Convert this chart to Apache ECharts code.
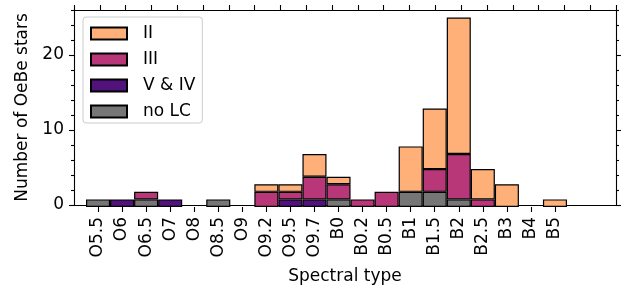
<!DOCTYPE html>
<html>
<head>
<meta charset="utf-8">
<script src="https://cdn.jsdelivr.net/npm/echarts@6/dist/echarts.min.js"></script>
<style>
  html, body { margin: 0; padding: 0; background: #fff; }
  #chart { width: 622px; height: 290px; }
</style>
</head>
<body>
<div id="chart"></div>
<script>
// spectral types on the x axis
const categories = ['O5.5', 'O6', 'O6.5', 'O7', 'O8', 'O8.5', 'O9', 'O9.2', 'O9.5', 'O9.7',
  'B0', 'B0.2', 'B0.5', 'B1', 'B1.5', 'B2', 'B2.5', 'B3', 'B4', 'B5'];

// counts per luminosity class (stacked bottom to top: no LC, V & IV, III, II)
const noLC = [1, 0, 1, 0, 0, 1, 0, 0, 0, 0, 1, 0, 0, 2, 2, 1, 0, 0, 0, 0];
const classVIV = [0, 1, 0, 1, 0, 0, 0, 0, 1, 1, 0, 0, 0, 0, 0, 0, 0, 0, 0, 0];
const classIII = [0, 0, 1, 0, 0, 0, 0, 2, 1, 3, 2, 1, 2, 0, 3, 6, 1, 0, 0, 0];
const classII = [0, 0, 0, 0, 0, 0, 0, 1, 1, 3, 1, 0, 0, 6, 8, 18, 4, 3, 0, 1];

const yMajor = [0, 10, 20];
const yMinor = [2, 4, 6, 8, 12, 14, 16, 18, 22, 24, 26];

const font = 'DejaVu Sans';
const black = '#000';
const line = { color: black, width: 1.1 };

function barSeries(name, arr, color) {
  return {
    name: name,
    type: 'bar',
    stack: 'total',
    xAxisIndex: 0,
    yAxisIndex: 0,
    barWidth: '100%',
    // empty bins are left out so no zero-height outline is drawn
    data: arr.map((v) => (v ? v : '-')),
    itemStyle: { color: color, borderColor: black, borderWidth: 1.2 },
    emphasis: { disabled: true },
  };
}

// frame axes (grid 1): left/right ticks, no series
function yFrame(position, ticks, len, showLine, showLabel, name) {
  return {
    type: 'value',
    gridIndex: 1,
    position: position,
    min: 0,
    max: 26,
    name: name || '',
    nameLocation: 'middle',
    nameGap: 37,
    nameTextStyle: { fontSize: 17, color: black, fontFamily: font },
    axisLine: { show: showLine, onZero: false, lineStyle: line },
    axisTick: { show: true, inside: false, length: len, customValues: ticks, lineStyle: line },
    axisLabel: { show: showLabel, customValues: ticks, margin: 10, fontSize: 17, color: black, fontFamily: font },
    splitLine: { show: false },
  };
}

const chart = echarts.init(document.getElementById('chart'));
chart.setOption({
  animation: false,
  textStyle: { fontFamily: font },
  grid: [
    { left: 86, right: 55, top: 10, bottom: 83 },   // bars
    { left: 74, right: 6, top: 10, bottom: 83 },    // frame
  ],
  legend: {
    data: ['II', 'III', 'V & IV', 'no LC'],
    orient: 'vertical',
    left: 83,
    top: 17,
    padding: [8, 7, 3, 7],
    itemWidth: 36,
    itemHeight: 12,
    itemGap: 9,
    icon: 'rect',
    backgroundColor: 'rgba(255,255,255,0.8)',
    borderColor: '#cccccc',
    borderWidth: 1,
    borderRadius: 3,
    textStyle: { fontSize: 17, lineHeight: 17, color: black, fontFamily: font, padding: [0, 0, 0, 11] },
  },
  xAxis: [
    {
      type: 'category',
      gridIndex: 0,
      data: categories,
      boundaryGap: true,
      axisLine: { show: false },
      axisTick: { show: true, inside: false, length: 5, alignWithLabel: true, lineStyle: line },
      axisLabel: { rotate: 90, margin: 10, fontSize: 17, color: black, fontFamily: font, interval: 0 },
      splitLine: { show: false },
    },
    {
      type: 'value',
      gridIndex: 1,
      position: 'bottom',
      min: 0,
      max: 1,
      name: 'Spectral type',
      nameLocation: 'middle',
      nameGap: 63,
      nameTextStyle: { fontSize: 17, color: black, fontFamily: font },
      axisLine: { show: true, onZero: false, lineStyle: line },
      axisTick: { show: false },
      axisLabel: { show: false },
      splitLine: { show: false },
    },
    {
      type: 'value',
      gridIndex: 1,
      position: 'top',
      min: 0,
      max: 21,
      interval: 1,
      axisLine: { show: true, onZero: false, lineStyle: line },
      axisTick: { show: true, inside: false, length: 5, lineStyle: line },
      axisLabel: { show: false },
      splitLine: { show: false },
    },
  ],
  yAxis: [
    { type: 'value', gridIndex: 0, min: 0, max: 26, show: false },
    yFrame('left', yMajor, 5, true, true, 'Number of OeBe stars'),
    yFrame('left', yMinor, 3, false, false),
    yFrame('right', yMajor, 5, true, false),
    yFrame('right', yMinor, 3, false, false),
  ],
  series: [
    barSeries('no LC', noLC, '#767676'),
    barSeries('V & IV', classVIV, '#51127c'),
    barSeries('III', classIII, '#b73779'),
    barSeries('II', classII, '#feb078'),
  ],
});
</script>
</body>
</html>
